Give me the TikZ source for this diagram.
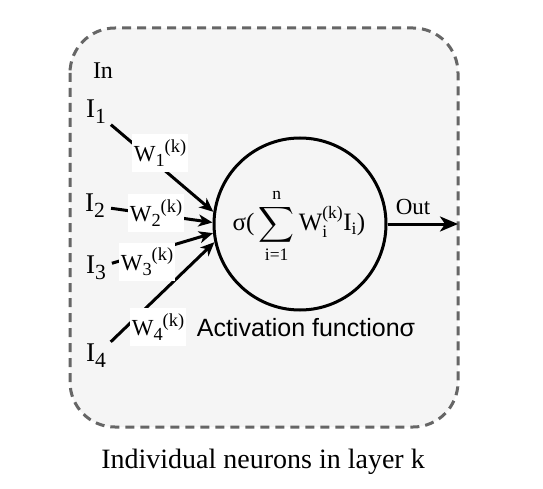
\documentclass[tikz,border=0pt]{standalone}
\usepackage{amsmath}
\usepackage{fontspec}
\setmainfont{Liberation Serif}
\newfontfamily\arialfont{Liberation Sans}
\usetikzlibrary{arrows.meta, positioning}
\definecolor{boxFill}{HTML}{F5F5F5}
\definecolor{boxLine}{HTML}{666666}
\newcommand{\lowSub}[1]{\raisebox{-0.22em}{\scalebox{0.8}{#1}}}
\newcommand{\highSup}[1]{\raisebox{0.42em}{\scalebox{0.8}{#1}}}
\tikzset{
    inLabel/.style={
        inner sep=1pt,
        font=\fontsize{27}{30}\selectfont
    },
    wLabel/.style={
        fill=white,
        inner xsep=2pt,
        inner ysep=5pt,
        font=\fontsize{23}{26}\selectfont
    },
    neuronNode/.style={
        circle,
        draw=black,
        line width=3pt,
        inner sep=0pt,
        minimum size=172pt
    }
}

\begin{document}
\begin{tikzpicture}[x=1pt, y=-1pt, >={Stealth[length=14pt, width=12pt, inset=4pt]}]
            \useasboundingbox (0,0) rectangle (543,489);

            % Layer box
            \draw[boxLine, fill=boxFill, line width=3pt, dash pattern=on 9pt off 6pt, rounded corners=45pt]
                (70,28) rectangle (458,427);

            % Neuron
            \node[neuronNode] (neuron) at (300,224) {};
            \node[font=\fontsize{25}{28}\selectfont] (sumText) at (299,226)
                {σ(\,$\displaystyle\sum_{\text{i=1}}^{\text{n}}$\,W$^{\text{(k)}}_{\text{i}}$I\textsubscript{i})};

            % Inputs
            \node[font=\fontsize{24}{26}\selectfont] (inText) at (103,71) {In};
            \node[inLabel] (I1) at (96,112) {I\lowSub{1}};
            \node[inLabel] (I2) at (95,206) {I\lowSub{2}};
            \node[inLabel] (I3) at (96,268) {I\lowSub{3}};
            \node[inLabel] (I4) at (96,356) {I\lowSub{4}};

            % Weighted connections
            \draw[->, line width=3pt, shorten <=5pt] (I1) -- (neuron.172);
            \draw[->, line width=3pt, shorten <=5pt] (I2) -- (neuron.179);
            \draw[->, line width=3pt, shorten <=5pt] (I3) -- (neuron.186);
            \draw[->, line width=3pt, shorten <=5pt] (I4) -- (neuron.192);

            % Weights
            \node[wLabel] (W1) at (160,153) {W\lowSub{1}\highSup{(k)}};
            \node[wLabel] (W2) at (156,213) {W\lowSub{2}\highSup{(k)}};
            \node[wLabel] (W3) at (147,262) {W\lowSub{3}\highSup{(k)}};
            \node[wLabel] (W4) at (158,327) {W\lowSub{4}\highSup{(k)}};

            % Output
            \coordinate (outEnd) at (458,224);
            \draw[->, line width=3pt, >={Stealth[length=18pt, width=15pt, inset=5pt]}] (neuron.east) -- (outEnd);
            \node[font=\fontsize{23}{25}\selectfont] (outText) at (413,207) {Out};

            % Captions
            \node[font=\arialfont\fontsize{25}{28}\selectfont] (actText) at (306,328) {Activation functionσ};
            \node[font=\fontsize{28}{30}\selectfont] (caption) at (263,462) {Individual neurons in layer k};
        \end{tikzpicture}
\end{document}
